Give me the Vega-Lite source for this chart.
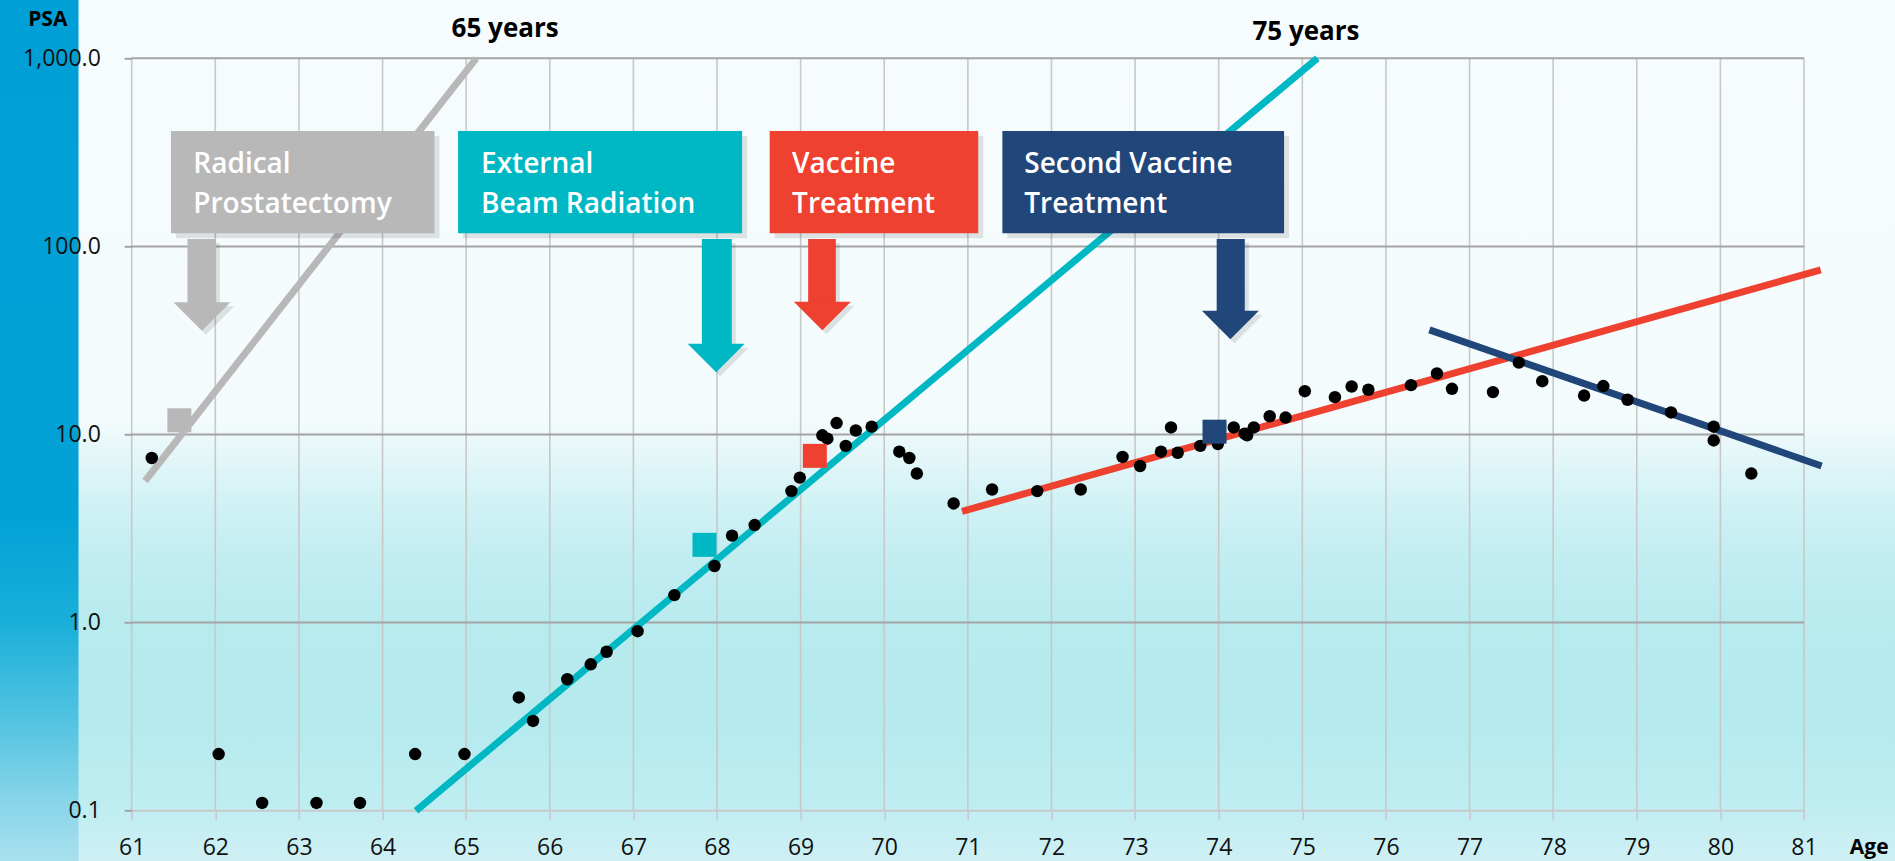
{
  "$schema": "https://vega.github.io/schema/vega-lite/v6.json",
  "width": 1672.3,
  "height": 752.4,
  "autosize": {"type": "none"},
  "padding": {"left": 131.7, "top": 58.3, "right": 91, "bottom": 50.3},
  "background": "#f6fcfd",
  "config": {"view": {"stroke": null}, "axis": {"grid": false, "domain": false}},
  "datasets": {
    "points": [
      {"age": 61.24, "psa": 7.5}, {"age": 62.04, "psa": 0.2}, {"age": 62.56, "psa": 0.11}, {"age": 63.21, "psa": 0.11},
      {"age": 63.73, "psa": 0.11}, {"age": 64.39, "psa": 0.2}, {"age": 64.98, "psa": 0.2}, {"age": 65.63, "psa": 0.4},
      {"age": 65.8, "psa": 0.3}, {"age": 66.21, "psa": 0.5}, {"age": 66.49, "psa": 0.6}, {"age": 66.68, "psa": 0.7},
      {"age": 67.05, "psa": 0.9}, {"age": 67.49, "psa": 1.4}, {"age": 67.97, "psa": 2.0}, {"age": 68.18, "psa": 2.9},
      {"age": 68.45, "psa": 3.3}, {"age": 68.89, "psa": 5.0}, {"age": 68.99, "psa": 5.9}, {"age": 69.26, "psa": 9.9},
      {"age": 69.32, "psa": 9.5}, {"age": 69.43, "psa": 11.5}, {"age": 69.54, "psa": 8.7}, {"age": 69.66, "psa": 10.5},
      {"age": 69.85, "psa": 11.0}, {"age": 70.18, "psa": 8.1}, {"age": 70.3, "psa": 7.5}, {"age": 70.39, "psa": 6.2},
      {"age": 70.83, "psa": 4.3}, {"age": 71.29, "psa": 5.1}, {"age": 71.83, "psa": 5.0}, {"age": 72.35, "psa": 5.1},
      {"age": 72.85, "psa": 7.6}, {"age": 73.06, "psa": 6.8}, {"age": 73.31, "psa": 8.1}, {"age": 73.43, "psa": 10.9},
      {"age": 73.51, "psa": 8.0}, {"age": 73.78, "psa": 8.7}, {"age": 73.99, "psa": 8.9}, {"age": 74.18, "psa": 10.9},
      {"age": 74.31, "psa": 10.1}, {"age": 74.34, "psa": 9.9}, {"age": 74.42, "psa": 10.9}, {"age": 74.61, "psa": 12.5},
      {"age": 74.8, "psa": 12.3}, {"age": 75.03, "psa": 17.0}, {"age": 75.39, "psa": 15.8}, {"age": 75.59, "psa": 18.0},
      {"age": 75.79, "psa": 17.3}, {"age": 76.3, "psa": 18.3}, {"age": 76.61, "psa": 21.1}, {"age": 76.79, "psa": 17.5},
      {"age": 77.28, "psa": 16.8}, {"age": 77.59, "psa": 24.1}, {"age": 77.87, "psa": 19.2}, {"age": 78.37, "psa": 16.1},
      {"age": 78.6, "psa": 18.1}, {"age": 78.89, "psa": 15.3}, {"age": 79.41, "psa": 13.1}, {"age": 79.92, "psa": 11.0},
      {"age": 79.92, "psa": 9.3}, {"age": 80.37, "psa": 6.2}
    ],
    "lines": [
      {"s": "rp", "age": 61.16, "psa": 5.66}, {"s": "rp", "age": 65.12, "psa": 1000},
      {"s": "ebr", "age": 64.4, "psa": 0.1}, {"s": "ebr", "age": 75.18, "psa": 1000},
      {"s": "vac", "age": 70.93, "psa": 3.9}, {"s": "vac", "age": 81.2, "psa": 75},
      {"s": "vac2", "age": 76.52, "psa": 36}, {"s": "vac2", "age": 81.21, "psa": 6.8}
    ],
    "squares": [
      {"s": "rp", "age": 61.57, "psa": 11.9},
      {"s": "ebr", "age": 67.85, "psa": 2.59},
      {"s": "vac", "age": 69.17, "psa": 7.7},
      {"s": "vac2", "age": 73.95, "psa": 10.35}
    ],
    "boxes": [
      {"s": "rp", "a1": 61.47, "a2": 64.621, "p1": 117.4, "p2": 410.7},
      {"s": "ebr", "a1": 64.903, "a2": 68.3, "p1": 117.4, "p2": 410.7},
      {"s": "vac", "a1": 68.63, "a2": 71.124, "p1": 117.4, "p2": 410.7},
      {"s": "vac2", "a1": 71.413, "a2": 74.782, "p1": 117.4, "p2": 410.7}
    ],
    "boxtext": [
      {"age": 61.737, "psa": 244.7, "t": "Radical"}, {"age": 61.737, "psa": 149.9, "t": "Prostatectomy"},
      {"age": 65.178, "psa": 244.7, "t": "External"}, {"age": 65.178, "psa": 149.9, "t": "Beam Radiation"},
      {"age": 68.898, "psa": 244.7, "t": "Vaccine"}, {"age": 68.898, "psa": 149.9, "t": "Treatment"},
      {"age": 71.675, "psa": 244.7, "t": "Second Vaccine"}, {"age": 71.675, "psa": 149.9, "t": "Treatment"}
    ],
    "stems": [
      {"s": "rp", "a1": 61.667, "a2": 62.008, "p1": 48.2, "p2": 109.5},
      {"s": "ebr", "a1": 67.819, "a2": 68.177, "p1": 29.5, "p2": 109.5},
      {"s": "vac", "a1": 69.09, "a2": 69.421, "p1": 48.8, "p2": 109.5},
      {"s": "vac2", "a1": 73.976, "a2": 74.312, "p1": 43.2, "p2": 109.5}
    ],
    "heads": [
      {"s": "rp", "age": 61.84, "psa": 42.4},
      {"s": "ebr", "age": 67.99, "psa": 25.5},
      {"s": "vac", "age": 69.26, "psa": 42.6},
      {"s": "vac2", "age": 74.14, "psa": 38.2}
    ],
    "notes": [
      {"age": 64.826, "psa": 1298, "t": "65 years"},
      {"age": 74.404, "psa": 1251, "t": "75 years"}
    ],
    "titles": [
      {"age": 59.996, "psa": 1485, "t": "PSA"},
      {"age": 81.78, "psa": 0.0585, "t": "Age"}
    ]
  },
  "layer": [
    {
      "data": {"values": [{}]},
      "mark": {"type": "rect", "fill": {"gradient": "linear", "x1": 0, "y1": 0, "x2": 0, "y2": 1, "stops": [
        {"offset": 0, "color": "#f6fcfd"}, {"offset": 0.488, "color": "#f4fbfc"}, {"offset": 0.511, "color": "#eaf8fa"},
        {"offset": 0.579, "color": "#d2f2f5"}, {"offset": 0.648, "color": "#c1edf1"}, {"offset": 0.717, "color": "#b8ebee"},
        {"offset": 0.831, "color": "#b5eaee"}, {"offset": 0.923, "color": "#bdedf1"}, {"offset": 1, "color": "#d0f0f5"}]}},
      "encoding": {
        "x": {"datum": 59.3, "type": "quantitative", "scale": {"type": "linear", "domain": [61, 81], "nice": false, "zero": false},
          "axis": {"values": [61, 62, 63, 64, 65, 66, 67, 68, 69, 70, 71, 72, 73, 74, 75, 76, 77, 78, 79, 80, 81], "format": "d", "grid": false, "domain": false,
            "ticks": true, "tickSize": 8.5, "tickColor": "#c8c8c8", "tickWidth": 1.6, "labelFont": "Open Sans", "labelFontSize": 23,
            "labelColor": "#111111", "labelPadding": 17.4, "title": null, "zindex": 1, "labelFlush": false, "labelOverlap": false}},
        "x2": {"datum": 82.2},
        "y": {"datum": 0.05, "type": "quantitative", "scale": {"type": "log", "domain": [0.1, 1000], "nice": false},
          "axis": {"values": [0.1, 1, 10, 100, 1000], "format": ",.1f", "grid": false, "domain": false,
            "ticks": true, "tickSize": 7.6, "tickColor": "#a4a4a4", "tickWidth": 2, "labelFont": "Open Sans", "labelFontSize": 23,
            "labelColor": "#111111", "labelPadding": 23.8, "title": null, "zindex": 1, "labelFlush": false, "labelOverlap": false}},
        "y2": {"datum": 2200}
      }
    },
    {
      "data": {"values": [{}]},
      "mark": {"type": "rect", "fill": {"gradient": "linear", "x1": 0, "y1": 0, "x2": 0, "y2": 1, "stops": [
        {"offset": 0, "color": "#009fd6"}, {"offset": 0.6, "color": "#02a2d6"}, {"offset": 0.72, "color": "#1aafd9"},
        {"offset": 0.83, "color": "#52c3e1"}, {"offset": 0.93, "color": "#8ad6e9"}, {"offset": 1, "color": "#ace1ee"}]}},
      "encoding": {
        "x": {"datum": 59.3, "type": "quantitative", "scale": {"type": "linear", "domain": [61, 81], "nice": false, "zero": false}},
        "x2": {"datum": 60.364},
        "y": {"datum": 0.05, "type": "quantitative", "scale": {"type": "log", "domain": [0.1, 1000], "nice": false}},
        "y2": {"datum": 2200}
      }
    },
    {
      "data": {"values": [{"v": 61}, {"v": 62}, {"v": 63}, {"v": 64}, {"v": 65}, {"v": 66}, {"v": 67}, {"v": 68}, {"v": 69}, {"v": 70}, {"v": 71}, {"v": 72}, {"v": 73}, {"v": 74}, {"v": 75}, {"v": 76}, {"v": 77}, {"v": 78}, {"v": 79}, {"v": 80}, {"v": 81}]},
      "mark": {"type": "rule", "color": "#c8c8c8", "strokeWidth": 1.6},
      "encoding": {
        "x": {"field": "v", "type": "quantitative", "scale": {"type": "linear", "domain": [61, 81], "nice": false, "zero": false}}
      }
    },
    {
      "data": {"values": [{"h": 0.1}, {"h": 1}, {"h": 10}, {"h": 100}, {"h": 1000}]},
      "mark": {"type": "rule", "strokeWidth": 2},
      "encoding": {
        "y": {"field": "h", "type": "quantitative", "scale": {"type": "log", "domain": [0.1, 1000], "nice": false}},
        "color": {"condition": {"test": "datum.h < 0.5", "value": "#c8c8c8"}, "value": "#a4a4a4"}
      }
    },
    {
      "data": {"name": "lines"},
      "mark": {"type": "line", "strokeWidth": 7, "strokeCap": "butt"},
      "encoding": {
        "x": {"field": "age", "type": "quantitative", "scale": {"type": "linear", "domain": [61, 81], "nice": false, "zero": false}},
        "y": {"field": "psa", "type": "quantitative", "scale": {"type": "log", "domain": [0.1, 1000], "nice": false}},
        "color": {"field": "s", "type": "nominal", "scale": {"domain": ["rp", "ebr", "vac", "vac2"], "range": ["#b8b8b8", "#00b8c4", "#ee4130", "#21477a"]}, "legend": null}
      }
    },
    {
      "data": {"name": "points"},
      "mark": {"type": "point", "shape": "circle", "filled": true, "color": "#000000", "size": 155, "opacity": 1},
      "encoding": {
        "x": {"field": "age", "type": "quantitative", "scale": {"type": "linear", "domain": [61, 81], "nice": false, "zero": false}},
        "y": {"field": "psa", "type": "quantitative", "scale": {"type": "log", "domain": [0.1, 1000], "nice": false}}
      }
    },
    {
      "data": {"name": "squares"},
      "mark": {"type": "point", "shape": "square", "filled": true, "size": 576, "opacity": 1},
      "encoding": {
        "x": {"field": "age", "type": "quantitative", "scale": {"type": "linear", "domain": [61, 81], "nice": false, "zero": false}},
        "y": {"field": "psa", "type": "quantitative", "scale": {"type": "log", "domain": [0.1, 1000], "nice": false}},
        "color": {"field": "s", "type": "nominal", "scale": {"domain": ["rp", "ebr", "vac", "vac2"], "range": ["#b8b8b8", "#00b8c4", "#ee4130", "#21477a"]}, "legend": null}
      }
    },
    {
      "data": {"name": "boxes"},
      "mark": {"type": "rect", "color": "#000000", "opacity": 0.1, "xOffset": 5, "x2Offset": 5, "yOffset": 5, "y2Offset": 5},
      "encoding": {
        "x": {"field": "a1", "type": "quantitative", "scale": {"type": "linear", "domain": [61, 81], "nice": false, "zero": false}},
        "x2": {"field": "a2"},
        "y": {"field": "p1", "type": "quantitative", "scale": {"type": "log", "domain": [0.1, 1000], "nice": false}},
        "y2": {"field": "p2"}
      }
    },
    {
      "data": {"name": "boxes"},
      "mark": {"type": "rect", "opacity": 1},
      "encoding": {
        "x": {"field": "a1", "type": "quantitative", "scale": {"type": "linear", "domain": [61, 81], "nice": false, "zero": false}},
        "x2": {"field": "a2"},
        "y": {"field": "p1", "type": "quantitative", "scale": {"type": "log", "domain": [0.1, 1000], "nice": false}},
        "y2": {"field": "p2"},
        "color": {"field": "s", "type": "nominal", "scale": {"domain": ["rp", "ebr", "vac", "vac2"], "range": ["#b8b8b8", "#00b8c4", "#ee4130", "#21477a"]}, "legend": null}
      }
    },
    {
      "data": {"name": "boxtext"},
      "mark": {"type": "text", "align": "left", "baseline": "alphabetic", "font": "Open Sans", "fontWeight": 600, "fontSize": 28, "color": "#ffffff"},
      "encoding": {
        "x": {"field": "age", "type": "quantitative", "scale": {"type": "linear", "domain": [61, 81], "nice": false, "zero": false}},
        "y": {"field": "psa", "type": "quantitative", "scale": {"type": "log", "domain": [0.1, 1000], "nice": false}},
        "text": {"field": "t"}
      }
    },
    {
      "data": {"name": "stems"},
      "mark": {"type": "rect", "color": "#000000", "opacity": 0.1, "xOffset": 4, "x2Offset": 4, "yOffset": 4, "y2Offset": 4},
      "encoding": {
        "x": {"field": "a1", "type": "quantitative", "scale": {"type": "linear", "domain": [61, 81], "nice": false, "zero": false}},
        "x2": {"field": "a2"},
        "y": {"field": "p1", "type": "quantitative", "scale": {"type": "log", "domain": [0.1, 1000], "nice": false}},
        "y2": {"field": "p2"}
      }
    },
    {
      "data": {"name": "heads"},
      "mark": {"type": "point", "shape": "M-1,-0.5L1,-0.5L0,0.5Z", "filled": true, "size": 3249, "color": "#000000", "opacity": 0.1, "xOffset": 4, "yOffset": 4},
      "encoding": {
        "x": {"field": "age", "type": "quantitative", "scale": {"type": "linear", "domain": [61, 81], "nice": false, "zero": false}},
        "y": {"field": "psa", "type": "quantitative", "scale": {"type": "log", "domain": [0.1, 1000], "nice": false}}
      }
    },
    {
      "data": {"name": "stems"},
      "mark": {"type": "rect", "opacity": 1},
      "encoding": {
        "x": {"field": "a1", "type": "quantitative", "scale": {"type": "linear", "domain": [61, 81], "nice": false, "zero": false}},
        "x2": {"field": "a2"},
        "y": {"field": "p1", "type": "quantitative", "scale": {"type": "log", "domain": [0.1, 1000], "nice": false}},
        "y2": {"field": "p2"},
        "color": {"field": "s", "type": "nominal", "scale": {"domain": ["rp", "ebr", "vac", "vac2"], "range": ["#b8b8b8", "#00b8c4", "#ee4130", "#21477a"]}, "legend": null}
      }
    },
    {
      "data": {"name": "heads"},
      "mark": {"type": "point", "shape": "M-1,-0.5L1,-0.5L0,0.5Z", "filled": true, "size": 3249, "opacity": 1},
      "encoding": {
        "x": {"field": "age", "type": "quantitative", "scale": {"type": "linear", "domain": [61, 81], "nice": false, "zero": false}},
        "y": {"field": "psa", "type": "quantitative", "scale": {"type": "log", "domain": [0.1, 1000], "nice": false}},
        "color": {"field": "s", "type": "nominal", "scale": {"domain": ["rp", "ebr", "vac", "vac2"], "range": ["#b8b8b8", "#00b8c4", "#ee4130", "#21477a"]}, "legend": null}
      }
    },
    {
      "data": {"name": "notes"},
      "mark": {"type": "text", "align": "left", "baseline": "alphabetic", "font": "Open Sans", "fontWeight": "bold", "fontSize": 26, "color": "#000000"},
      "encoding": {
        "x": {"field": "age", "type": "quantitative", "scale": {"type": "linear", "domain": [61, 81], "nice": false, "zero": false}},
        "y": {"field": "psa", "type": "quantitative", "scale": {"type": "log", "domain": [0.1, 1000], "nice": false}},
        "text": {"field": "t"}
      }
    },
    {
      "data": {"name": "titles"},
      "mark": {"type": "text", "align": "center", "baseline": "alphabetic", "font": "Open Sans", "fontWeight": "bold", "fontSize": 21, "color": "#000000"},
      "encoding": {
        "x": {"field": "age", "type": "quantitative", "scale": {"type": "linear", "domain": [61, 81], "nice": false, "zero": false}},
        "y": {"field": "psa", "type": "quantitative", "scale": {"type": "log", "domain": [0.1, 1000], "nice": false}},
        "text": {"field": "t"}
      }
    }
  ]
}
